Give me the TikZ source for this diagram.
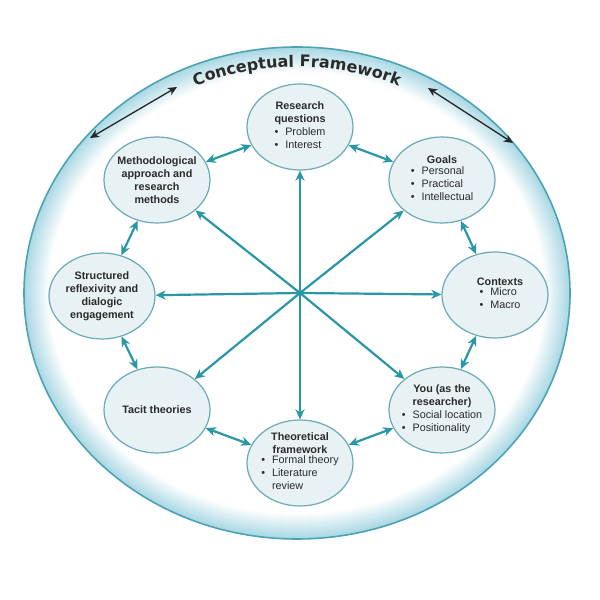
\documentclass[tikz,border=0pt]{standalone}
\usepackage{fontspec}
\setmainfont{Liberation Sans}
\newfontfamily\titlefont{DejaVu Sans}
\usetikzlibrary{arrows.meta,shapes.geometric,decorations.text}
\definecolor{tealA}{HTML}{2A97A7}
\definecolor{nodeline}{HTML}{6AAAB5}
\definecolor{nodefill}{HTML}{E8F1F4}
\definecolor{ringblue}{HTML}{A9D8E4}
\definecolor{ringline}{HTML}{4BA3B4}
\definecolor{txt}{HTML}{2B2B2B}
\newcommand{\blist}[1]{\begin{tabular}{@{}l@{\hspace{7pt}}l@{}}#1\end{tabular}}
\begin{document}
\begin{tikzpicture}[x=1pt,y=1pt,
  bubble/.style={ellipse, draw=nodeline, line width=1.2pt, fill=nodefill,
    minimum width=106pt, minimum height=86pt, inner sep=0pt},
  btext/.style={inner sep=0pt, align=center,
    font=\fontsize{10.8}{13}\selectfont, text=txt},
  spoke/.style={draw=tealA, line width=2.2pt, -{Stealth[length=10pt,width=9pt,inset=3pt]}},
  ringarrow/.style={draw=tealA, line width=2.2pt, {Stealth[length=10pt,width=9pt,inset=3pt]}-{Stealth[length=10pt,width=9pt,inset=3pt]}},
  blackarrow/.style={draw=black!85, line width=1.3pt, {Stealth[length=9pt,width=8pt,inset=2.5pt]}-{Stealth[length=9pt,width=8pt,inset=2.5pt]}}
]
\useasboundingbox (0,0) rectangle (600,600);
\fill[white] (0,0) rectangle (600,600);
% outer framework ellipse with soft inner edge
\foreach \i [evaluate=\i as \c using {100-4*\i}] in {0,...,25}
  \fill[ringblue!\c!white] (297,307) ellipse [x radius={273-\i}, y radius={246-\i}];
\draw[ringline, line width=1.6pt] (297,307) ellipse [x radius=273, y radius=246];
% title along the arc
\path[decorate, decoration={text along path,
  text={|\fontsize{16}{16}\selectfont\titlefont\bfseries\color{txt}|Conceptual Framework},
  text align={center}}]
  (297,307) ++(150:253 and 226) arc[start angle=150, end angle=30, x radius=253, y radius=226];
% black arrows
\coordinate (bl1) at (90,462);
\coordinate (bl2) at (177,513);
\coordinate (br1) at (428,512);
\coordinate (br2) at (513,457);
\draw[blackarrow] (bl1) -- (bl2);
\draw[blackarrow] (br1) -- (br2);
% nodes
\coordinate (hub) at (300,307);
\node[bubble] (rq) at (300,473) {};
\node[bubble] (goals) at (442,420) {};
\node[bubble] (ctx) at (495,305) {};
\node[bubble] (you) at (442,190) {};
\node[bubble] (theo) at (300,137) {};
\node[bubble] (tacit) at (157,190) {};
\node[bubble] (refl) at (102,304) {};
\node[bubble] (meth) at (157,420) {};
\node[btext] (rqt) at (rq) {\textbf{Research}\\\textbf{questions}\\\blist{\textbullet & Problem\\ \textbullet & Interest}};
\node[btext] (goalst) at (goals) {\textbf{Goals}\\\blist{\textbullet & Personal\\ \textbullet & Practical\\ \textbullet & Intellectual}};
\node[btext] (ctxt) at ([xshift=5pt]ctx.center) {\textbf{Contexts}\\\blist{\textbullet & Micro\\ \textbullet & Macro}};
\node[btext] (yout) at (you) {\textbf{You (as the}\\\textbf{researcher)}\\\blist{\textbullet & Social location\\ \textbullet & Positionality}};
\node[btext] (theot) at (theo) {\textbf{Theoretical}\\\textbf{framework}\\\blist{\textbullet & Formal theory\\ \textbullet & Literature\\ & review}};
\node[btext] (tacitt) at (tacit) {\textbf{Tacit theories}};
\node[btext] (reflt) at (refl) {\textbf{Structured}\\\textbf{reflexivity and}\\\textbf{dialogic}\\\textbf{engagement}};
\node[btext] (metht) at (meth) {\textbf{Methodological}\\\textbf{approach and}\\\textbf{research}\\\textbf{methods}};
% spokes
\foreach \n in {rq,goals,ctx,you,theo,tacit,refl,meth}
  \draw[spoke] (hub) -- (\n);
% ring arrows
\draw[ringarrow] (rq) -- (goals);
\draw[ringarrow] (goals) -- (ctx);
\draw[ringarrow] (ctx) -- (you);
\draw[ringarrow] (you) -- (theo);
\draw[ringarrow] (theo) -- (tacit);
\draw[ringarrow] (tacit) -- (refl);
\draw[ringarrow] (refl) -- (meth);
\draw[ringarrow] (meth) -- (rq);
\end{tikzpicture}
\end{document}
